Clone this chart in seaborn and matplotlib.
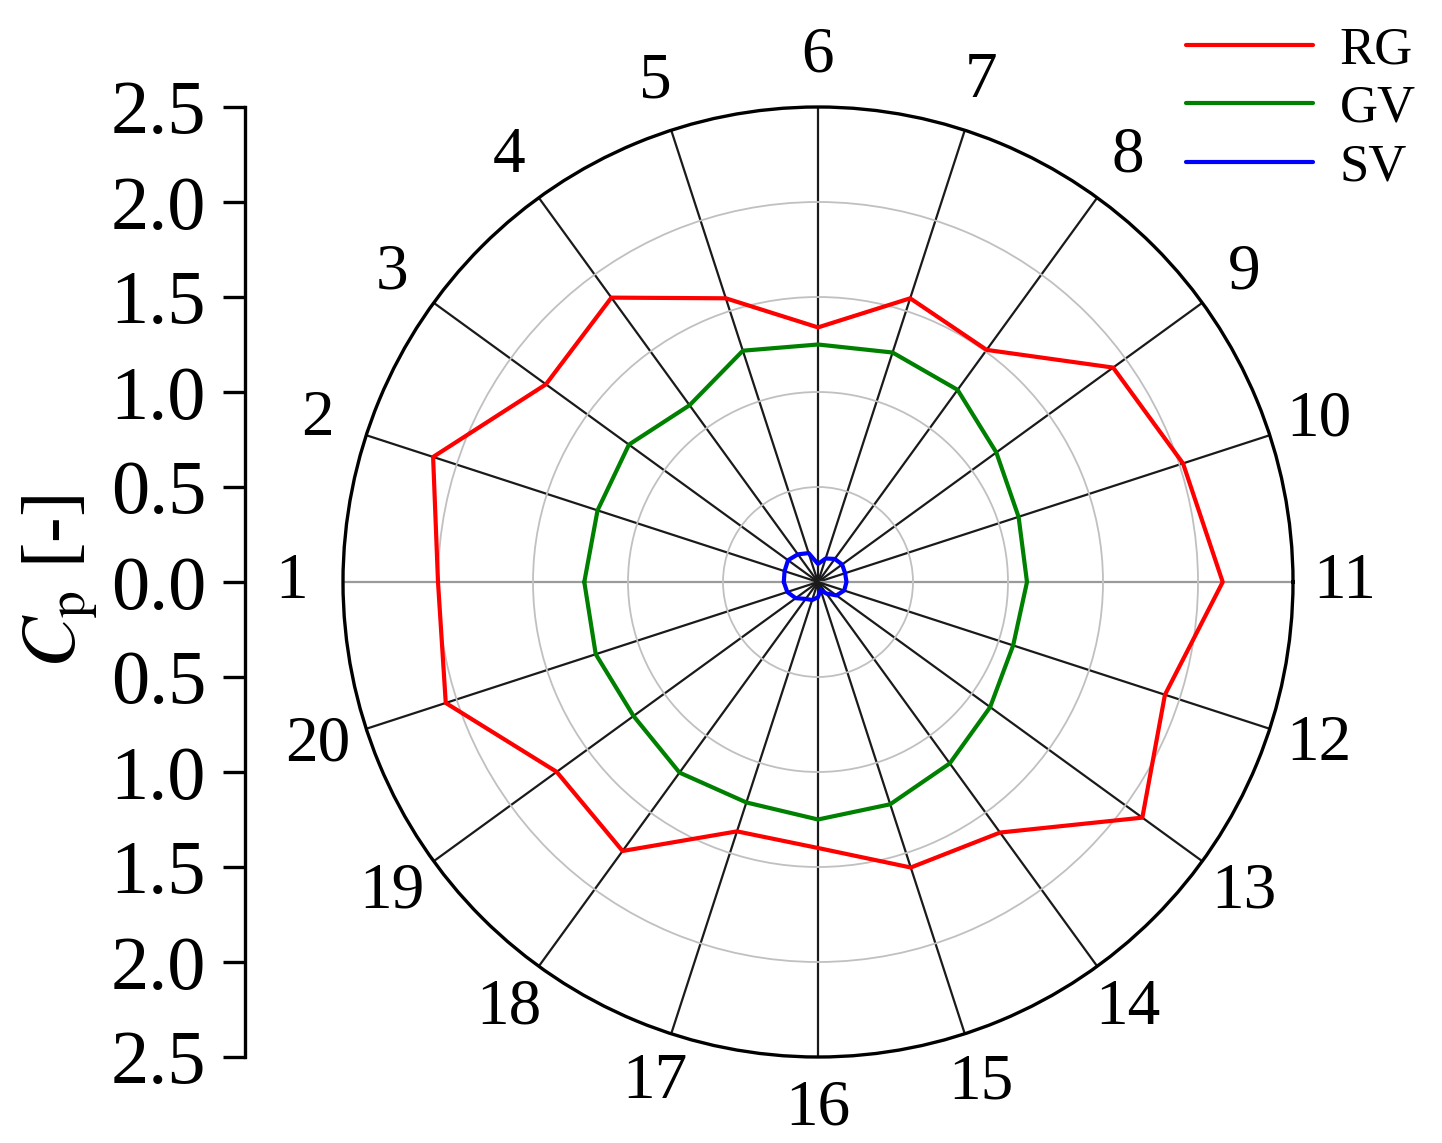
import numpy as np
import pandas as pd
import seaborn as sns
import matplotlib.pyplot as plt

# pressure coefficient at the 20 taps round the section
taps = list(range(1, 21))
rg = [2.00, 2.13, 1.77, 1.85, 1.57, 1.34, 1.57, 1.51, 1.92, 2.02,
      2.13, 1.92, 2.11, 1.63, 1.58, 1.40, 1.38, 1.75, 1.70, 2.06]
gv = [1.23, 1.22, 1.23, 1.15, 1.28, 1.25, 1.27, 1.25, 1.16, 1.11,
      1.10, 1.08, 1.12, 1.18, 1.23, 1.25, 1.22, 1.24, 1.20, 1.23]
sv = [0.18, 0.185, 0.195, 0.18, 0.16, 0.095, 0.13, 0.15, 0.157, 0.15,
      0.15, 0.145, 0.12, 0.075, 0.045, 0.08, 0.10, 0.11, 0.145, 0.17]
series_names = ["RG", "GV", "SV"]
series_colors = ["#ff0000", "#008000", "#0000ff"]
r_ticks = [-2.5, -2.0, -1.5, -1.0, -0.5, 0.0, 0.5, 1.0, 1.5, 2.0, 2.5]

sns.set_style("white", rc={"text.color": "k", "axes.labelcolor": "k",
                           "xtick.color": "k", "ytick.color": "k",
                           "axes.edgecolor": "k"})
plt.rcParams["font.family"] = ["Liberation Serif", "DejaVu Serif"]
plt.rcParams["mathtext.fontset"] = "stix"

# tap 1 sits at the left, going clockwise, tap 6 at the top
theta = np.deg2rad(180 - 18 * (np.array(taps) - 1)) % (2 * np.pi)

rows = []
for name, vals in zip(series_names, [rg, gv, sv]):
    for t, v in zip(list(theta) + [theta[0]], vals + [vals[0]]):
        rows.append({"theta": t, "cp": v, "series": name})
df = pd.DataFrame(rows)

fig = plt.figure(figsize=(14.42, 11.43), dpi=100)
ax = fig.add_axes([343 / 1442, 86 / 1143, 950 / 1442, 950 / 1143], projection="polar")

sns.lineplot(data=df, x="theta", y="cp", hue="series", palette=series_colors,
             hue_order=series_names, sort=False, estimator=None,
             linewidth=3.0, ax=ax)

ax.set_xlim(0, 2 * np.pi)
ax.set_ylim(0, 2.5)
ax.set_yticks([0.5, 1.0, 1.5, 2.0, 2.5])
ax.set_yticklabels([])
ax.set_xticks(theta)
ax.set_xticklabels([str(t) for t in taps], fontsize=47)
ax.tick_params(axis="x", pad=30, direction="in", length=10, width=2, color="k")
ax.set_xlabel("")
ax.set_ylabel("")
ax.yaxis.grid(True, color="#c0c0c0", lw=1.3)
ax.xaxis.grid(True, color="#1a1a1a", lw=1.6)
for g, t in zip(ax.xaxis.get_gridlines(), theta):
    if np.isclose(np.cos(t) ** 2, 1):
        g.set_color("#9a9a9a")
ax.spines["polar"].set_linewidth(2.4)
ax.spines["polar"].set_color("k")

handles, labels = ax.get_legend_handles_labels()
ax.get_legend().remove()
leg = fig.legend(handles, labels, loc="upper right", bbox_to_anchor=(1.0, 1.0),
                 frameon=False, fontsize=38, handlelength=2.4, handletextpad=0.5,
                 labelspacing=0.2, borderaxespad=0.1)
for h in leg.get_lines():
    h.set_linewidth(3.0)

# linear scale on the left showing the radial values
cax = fig.add_axes([245 / 1442, 86 / 1143, 0.001, 950 / 1143])
cax.set_ylim(-2.5, 2.5)
cax.set_yticks(r_ticks)
cax.set_yticklabels([f"{abs(v):.1f}" for v in r_ticks], fontsize=55)
cax.set_xticks([])
for s in ["top", "right", "bottom"]:
    cax.spines[s].set_visible(False)
cax.spines["left"].set_linewidth(2.4)
cax.tick_params(axis="y", direction="out", length=16, width=2.4, pad=12, left=True)
cax.set_ylabel(r"$C_\mathrm{p}$ [-]", fontsize=55, labelpad=8)
cax.patch.set_visible(False)

fig.savefig("out.png", dpi=100)
